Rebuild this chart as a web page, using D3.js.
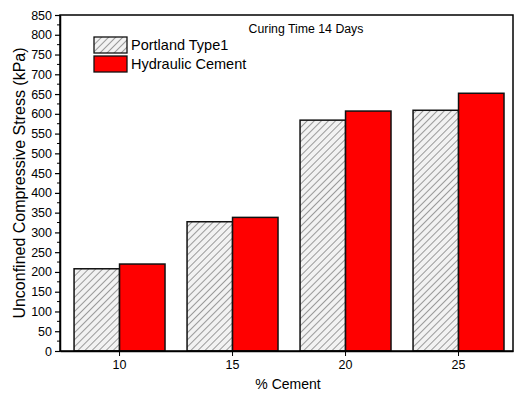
<!DOCTYPE html>
<html>
<head>
<meta charset="utf-8">
<script src="https://cdn.jsdelivr.net/npm/d3@7"></script>
<style>
  body { margin: 0; background: #fff; }
  svg { font-family: "Liberation Sans", Arial, sans-serif; }
</style>
</head>
<body>
<script>
// data
const categories = ["10", "15", "20", "25"];
const series = ["Portland Type1", "Hydraulic Cement"];
const portland = [208, 327, 584, 609];
const hydraulic = [220, 338, 607, 652];
const yTicks = d3.range(0, 851, 50);

const width = 516, height = 394;
const margin = {top: 15, right: 3, bottom: 43, left: 60};

const svg = d3.select("body").append("svg")
    .attr("width", width)
    .attr("height", height);

// hatch pattern for Portland
const defs = svg.append("defs");
const pat = defs.append("pattern")
    .attr("id", "hatch")
    .attr("patternUnits", "userSpaceOnUse")
    .attr("width", 5)
    .attr("height", 5)
    .attr("patternTransform", "rotate(45)");
pat.append("rect").attr("width", 5).attr("height", 5).attr("fill", "#f2f2f2");
pat.append("line")
    .attr("x1", 0).attr("y1", 0).attr("x2", 0).attr("y2", 5)
    .attr("stroke", "#6a6a6a").attr("stroke-width", 1.3);

const x = d3.scaleBand(categories, [margin.left, width - margin.right])
    .paddingInner(0.195)
    .paddingOuter(0.102)
    .align(0.61);
const xs = d3.scaleBand(series, [0, x.bandwidth()]);
const y = d3.scaleLinear([0, 850], [height - margin.bottom, margin.top]);

const data = categories.map((c, i) => ({cat: c, values: [portland[i], hydraulic[i]]}));

// bars
const g = svg.append("g");
g.selectAll("g")
  .data(data)
  .join("g")
    .attr("transform", d => `translate(${x(d.cat)},0)`)
  .selectAll("rect")
  .data(d => d.values.map((v, j) => ({s: series[j], v})))
  .join("rect")
    .attr("x", d => xs(d.s))
    .attr("y", d => y(d.v))
    .attr("width", xs.bandwidth())
    .attr("height", d => y(0) - y(d.v))
    .attr("fill", d => d.s === series[0] ? "url(#hatch)" : "#ff0000")
    .attr("stroke", "#111")
    .attr("stroke-width", 1.5);

// frame
svg.append("rect")
    .attr("x", margin.left)
    .attr("y", margin.top)
    .attr("width", width - margin.right - margin.left)
    .attr("height", height - margin.bottom - margin.top)
    .attr("fill", "none")
    .attr("stroke", "#000")
    .attr("stroke-width", 1.5);

// y axis
const yAxis = svg.append("g")
    .attr("transform", `translate(${margin.left},0)`)
    .call(d3.axisLeft(y).tickValues(yTicks).tickSize(5).tickPadding(3).tickSizeOuter(0))
    .call(g => g.select(".domain").attr("stroke-width", 1.5));
yAxis.selectAll(".tick line").attr("stroke-width", 1.2);
yAxis.selectAll("text").attr("font-size", 12.5).attr("fill", "#000");
svg.append("g")
    .attr("transform", `translate(${margin.left},0)`)
    .selectAll("line")
    .data(d3.range(25, 850, 50))
    .join("line")
      .attr("x1", -3).attr("x2", 0)
      .attr("y1", d => y(d)).attr("y2", d => y(d))
      .attr("stroke", "#000");

// x axis
const xAxis = svg.append("g")
    .attr("transform", `translate(0,${height - margin.bottom})`)
    .call(d3.axisBottom(x).tickSize(5).tickPadding(4).tickSizeOuter(0))
    .call(g => g.select(".domain").attr("stroke-width", 1.5));
xAxis.selectAll("text").attr("font-size", 12.5).attr("fill", "#000");

// axis titles
svg.append("text")
    .attr("x", 288)
    .attr("y", 389)
    .attr("text-anchor", "middle")
    .attr("font-size", 14)
    .text("% Cement");
svg.append("text")
    .attr("transform", `translate(25,${(margin.top + height - margin.bottom) / 2}) rotate(-90)`)
    .attr("text-anchor", "middle")
    .attr("font-size", 16)
    .text("Unconfined Compressive Stress (kPa)");

// annotation
svg.append("text")
    .attr("x", 306)
    .attr("y", 33)
    .attr("text-anchor", "middle")
    .attr("font-size", 12.3)
    .text("Curing Time 14 Days");

// legend
const legend = svg.append("g").attr("transform", "translate(94,37)");
const li = legend.selectAll("g")
  .data(series)
  .join("g")
    .attr("transform", (d, i) => `translate(0,${i * 19})`);
li.append("rect")
    .attr("width", 33).attr("height", 16)
    .attr("fill", (d, i) => i === 0 ? "url(#hatch)" : "#ff0000")
    .attr("stroke", "#111").attr("stroke-width", 1.3);
li.append("text")
    .attr("x", 37).attr("y", 13)
    .attr("font-size", 14.5)
    .text(d => d);
</script>
</body>
</html>
